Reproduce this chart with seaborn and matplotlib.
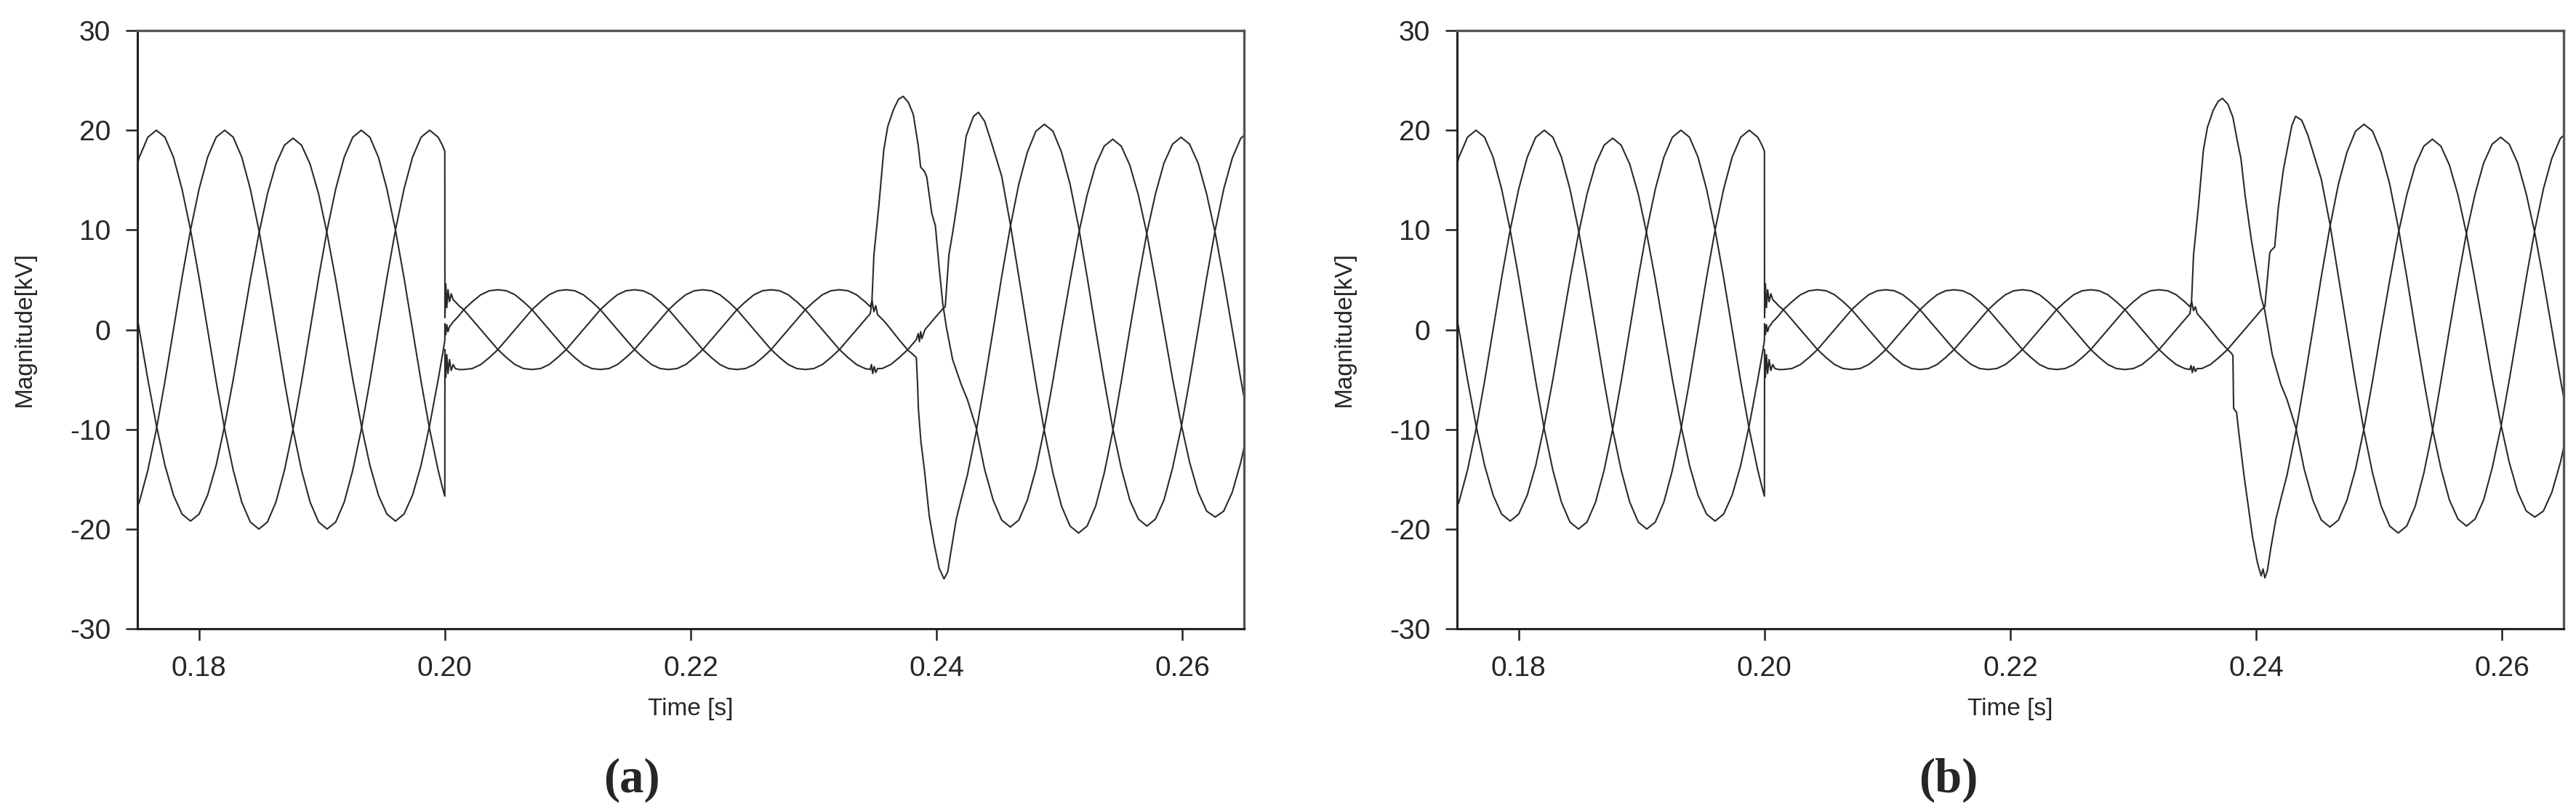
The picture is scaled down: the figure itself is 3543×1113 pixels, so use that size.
import numpy as np
import pandas as pd
import matplotlib
matplotlib.use("Agg")
import matplotlib.pyplot as plt
import seaborn as sns

# sampling interval of the steady parts (1/24 of a 60 Hz cycle)
STEP = 1 / 60 / 24
T_PRE = 0.17446    # first pre-fault sample
T_SAG = 0.20154    # first steady sag sample
T_POST = 0.24599   # first steady post-recovery sample

# ---- pre-fault, shared by both panels [kV]
pre_A = [14.1, 17.3, 19.3, 20.0, 19.3, 17.3, 14.1, 10.0, 5.2, 0.0, -5.2, -10.0, -14.1, -17.3, -19.3,
         -20.0, -19.3, -17.3, -14.1, -10.0, -5.2, 0.0, 5.2, 10.0, 14.1, 17.3, 19.3, 20.0, 19.3, 17.3,
         14.1, 10.0, 5.2, 0.0, -5.2, -10.0, -14.1]
pre_B = [-19.3, -17.3, -14.1, -10.0, -5.2, 0.0, 5.2, 10.0, 14.1, 17.3, 19.3, 20.0, 19.3, 17.3, 14.1,
         10.0, 5.2, 0.0, -5.2, -10.0, -14.1, -17.3, -19.3, -20.0, -19.3, -17.3, -14.1, -10.0, -5.2, 0.0,
         5.2, 10.0, 14.1, 17.3, 19.3, 20.0, 19.3]
pre_C = [5.0, 0.0, -5.0, -9.6, -13.6, -16.6, -18.5, -19.2, -18.5, -16.6, -13.6, -9.6, -5.0, 0.0, 5.0,
         9.6, 13.6, 16.6, 18.5, 19.2, 18.5, 16.6, 13.6, 9.6, 5.0, 0.0, -5.0, -9.6, -13.6, -16.6,
         -18.5, -19.2, -18.5, -16.6, -13.6, -9.6, -5.0]

# ---- fault inception at t = 0.200 s
fault_t = [0.19980, 0.20000, 0.20001, 0.20008, 0.20016, 0.20026, 0.20038, 0.20052, 0.20068, 0.20085, 0.20115]
fault_A = [-15.8, -16.7, -2.0, -4.8, -2.5, -4.4, -3.0, -4.1, -3.5, -3.9, -4.0]
fault_B = [18.5, 17.9, 1.2, 4.6, 2.2, 4.0, 2.8, 3.6, 3.0, 2.8, 2.4]
fault_C = [-2.6, -1.1, 0.6, -0.5, 0.5, -0.2, 0.3, 0.5, 0.8, 1.0, 1.4]

# ---- voltage sag
sag_A = [-4.0, -3.9, -3.5, -2.8, -2.0, -1.0, 0.0, 1.0, 2.0, 2.8, 3.5, 3.9,
         4.0, 3.9, 3.5, 2.8, 2.0, 1.0, 0.0, -1.0, -2.0, -2.8, -3.5, -3.9,
         -4.0, -3.9, -3.5, -2.8, -2.0, -1.0, 0.0, 1.0, 2.0, 2.8, 3.5, 3.9,
         4.0, 3.9, 3.5, 2.8, 2.0, 1.0, 0.0, -1.0, -2.0, -2.8, -3.5, -3.9]
sag_B = [2.0, 1.0, 0.0, -1.0, -2.0, -2.8, -3.5, -3.9, -4.0, -3.9, -3.5, -2.8,
         -2.0, -1.0, 0.0, 1.0, 2.0, 2.8, 3.5, 3.9, 4.0, 3.9, 3.5, 2.8,
         2.0, 1.0, 0.0, -1.0, -2.0, -2.8, -3.5, -3.9, -4.0, -3.9, -3.5, -2.8,
         -2.0, -1.0, 0.0, 1.0, 2.0, 2.8, 3.5, 3.9, 4.0, 3.9, 3.5, 2.8]
sag_C = [2.0, 2.8, 3.5, 3.9, 4.0, 3.9, 3.5, 2.8, 2.0, 1.0, 0.0, -1.0,
         -2.0, -2.8, -3.5, -3.9, -4.0, -3.9, -3.5, -2.8, -2.0, -1.0, 0.0, 1.0,
         2.0, 2.8, 3.5, 3.9, 4.0, 3.9, 3.5, 2.8, 2.0, 1.0, 0.0, -1.0,
         -2.0, -2.8, -3.5, -3.9, -4.0, -3.9, -3.5, -2.8, -2.0, -1.0, 0.0, 1.0]

# ---- recovery transient, panel (a)
rec_a_A_t = [0.23460, 0.23470, 0.23480, 0.23492, 0.23505, 0.23520, 0.23557, 0.23627, 0.23696, 0.23766,
             0.23835, 0.23850, 0.23860, 0.23870, 0.23880, 0.23905, 0.23974, 0.24043, 0.24070, 0.24100,
             0.24130, 0.24160, 0.24200, 0.24240, 0.24270, 0.24300, 0.24340, 0.24390, 0.24440, 0.24529]
rec_a_A = [-4.0, -3.5, -4.4, -3.7, -4.3, -3.9, -3.9, -3.5, -2.8, -2.0,
           -1.0, -0.4, -1.2, -0.2, -0.9, 0.0, 1.0, 2.0, 2.3, 7.5,
           9.7, 12.1, 15.5, 19.4, 20.4, 21.4, 21.8, 20.9, 19.0, 15.4]
rec_a_B_t = [0.23460, 0.23475, 0.23490, 0.23505, 0.23520, 0.23570, 0.23630, 0.23700, 0.23770, 0.23800,
             0.23835, 0.23845, 0.23852, 0.23872, 0.23900, 0.23940, 0.23980, 0.24020, 0.24060, 0.24090,
             0.24120, 0.24160, 0.24200, 0.24250, 0.24321, 0.24390, 0.24460, 0.24529]
rec_a_B = [2.3, 2.9, 1.8, 2.4, 1.5, 0.9, 0.0, -1.1, -2.1, -2.4,
           -2.8, -5.5, -8.0, -11.2, -14.0, -18.7, -21.5, -23.9, -25.0, -24.3,
           -22.0, -19.0, -17.0, -14.6, -10.3, -5.3, 0.0, 5.3]
rec_a_C_t = [0.23460, 0.23473, 0.23490, 0.23530, 0.23570, 0.23603, 0.23650, 0.23690, 0.23728, 0.23770,
             0.23810, 0.23850, 0.23870, 0.23900, 0.23920, 0.23960, 0.23990, 0.24020, 0.24050, 0.24080,
             0.24130, 0.24200, 0.24250, 0.24321, 0.24390, 0.24460, 0.24529]
rec_a_C = [1.6, 2.6, 7.5, 12.4, 18.0, 20.4, 22.1, 23.1, 23.4, 22.8,
           21.6, 18.5, 16.3, 15.9, 15.3, 11.7, 10.4, 6.3, 2.6, 0.2,
           -3.0, -5.5, -7.0, -9.8, -14.0, -17.1, -19.1]

# ---- recovery transient, panel (b)
rec_b_A_t = [0.23460, 0.23470, 0.23480, 0.23492, 0.23505, 0.23520, 0.23557, 0.23627, 0.23696, 0.23766,
             0.23835, 0.23905, 0.23974, 0.24043, 0.24070, 0.24110, 0.24118, 0.24150, 0.24180, 0.24220,
             0.24260, 0.24290, 0.24320, 0.24370, 0.24420, 0.24529]
rec_b_A = [-4.0, -3.6, -4.3, -3.7, -4.2, -3.9, -3.9, -3.5, -2.8, -2.0,
           -1.0, 0.0, 1.0, 2.0, 2.3, 7.7, 7.9, 8.3, 12.3, 16.0,
           18.6, 20.5, 21.4, 21.0, 19.5, 15.1]
rec_b_B_t = [0.23460, 0.23475, 0.23490, 0.23505, 0.23520, 0.23570, 0.23630, 0.23700, 0.23760, 0.23800,
             0.23810, 0.23816, 0.23840, 0.23855, 0.23900, 0.23970, 0.24010, 0.24040, 0.24055, 0.24070,
             0.24090, 0.24120, 0.24160, 0.24200, 0.24250, 0.24321, 0.24390, 0.24460, 0.24529]
rec_b_B = [2.3, 2.8, 1.9, 2.3, 1.6, 0.9, 0.0, -1.1, -1.9, -2.4,
           -2.6, -7.9, -8.3, -10.0, -14.6, -20.8, -23.4, -24.7, -24.0, -24.9,
           -24.2, -21.8, -19.0, -17.0, -14.6, -10.3, -5.3, 0.0, 5.3]
rec_b_C_t = [0.23460, 0.23473, 0.23490, 0.23530, 0.23570, 0.23603, 0.23650, 0.23690, 0.23725, 0.23770,
             0.23810, 0.23845, 0.23861, 0.23875, 0.23910, 0.23960, 0.24000, 0.24040, 0.24068, 0.24130,
             0.24200, 0.24250, 0.24321, 0.24390, 0.24460, 0.24529]
rec_b_C = [1.6, 2.6, 7.5, 12.4, 18.0, 20.3, 22.0, 22.9, 23.2, 22.6,
           21.3, 19.0, 18.0, 17.2, 13.4, 9.0, 6.1, 3.2, 2.0, -2.5,
           -5.5, -7.0, -9.8, -14.0, -17.1, -19.1]

# ---- after recovery, shared by both panels
post_A = [10.6, 5.3, 0.0, -5.3, -10.2, -14.4, -17.7, -19.7, -20.4, -19.7, -17.7, -14.4, -10.2, -5.2, 0.0,
          5.0, 9.7, 13.6, 16.7, 18.6, 19.3, 18.6, 16.7, 13.6, 9.7, 5.0, 0.0, -5.0, -9.7]
post_B = [10.3, 14.6, 17.8, 19.9, 20.6, 19.9, 17.8, 14.6, 10.3, 5.3, 0.0, -5.1, -9.9, -13.9, -17.1,
          -19.0, -19.7, -19.0, -17.1, -13.9, -9.9, -5.1, 0.0, 5.2, 10.0, 14.1, 17.2, 19.2, 19.9]
post_C = [-19.8, -19.1, -17.1, -14.0, -9.9, -5.1, 0.0, 4.9, 9.6, 13.5, 16.5, 18.4, 19.1, 18.4, 16.5,
          13.5, 9.6, 4.9, 0.0, -4.9, -9.4, -13.3, -16.3, -18.2, -18.8, -18.2, -16.3, -13.3, -9.4]

panels = {
    "(a)": {"A": (rec_a_A_t, rec_a_A), "B": (rec_a_B_t, rec_a_B), "C": (rec_a_C_t, rec_a_C)},
    "(b)": {"A": (rec_b_A_t, rec_b_A), "B": (rec_b_B_t, rec_b_B), "C": (rec_b_C_t, rec_b_C)},
}
steady = {
    "A": (pre_A, fault_A, sag_A, post_A),
    "B": (pre_B, fault_B, sag_B, post_B),
    "C": (pre_C, fault_C, sag_C, post_C),
}


def sampled(t0, vals):
    return list(t0 + STEP * np.arange(len(vals)))


def build_frame(rec):
    rows = []
    for ph, (pre, flt, sag, post) in steady.items():
        rt, rv = rec[ph]
        t = sampled(T_PRE, pre) + fault_t + sampled(T_SAG, sag) + rt + sampled(T_POST, post)
        v = pre + flt + sag + rv + post
        rows.append(pd.DataFrame({"time": t, "kV": v, "phase": ph}))
    return pd.concat(rows, ignore_index=True)


sns.set_theme(style="ticks")
plt.rcParams["font.family"] = ["Liberation Sans", "DejaVu Sans"]
plt.rcParams["axes.unicode_minus"] = False

W, H = 3543, 1113
fig = plt.figure(figsize=(W / 100, H / 100), dpi=100)
line_col = "#2a2a2a"
ax_lefts = [189 / W, 2004 / W]
ax_w = 1522 / W
ax_b = 1 - 865 / H
ax_h = 823 / H
label_x = [869 / W, 2680 / W]

for i, (name, rec) in enumerate(panels.items()):
    ax = fig.add_axes([ax_lefts[i], ax_b, ax_w, ax_h])
    df = build_frame(rec)
    sns.lineplot(data=df, x="time", y="kV", hue="phase", units="phase",
                 palette={"A": line_col, "B": line_col, "C": line_col},
                 estimator=None, sort=False, linewidth=1.5, legend=False, ax=ax)
    ax.set_xlim(0.175, 0.265)
    ax.set_ylim(-30, 30)
    ax.set_xticks([0.18, 0.20, 0.22, 0.24, 0.26])
    ax.set_xticklabels(["0.18", "0.20", "0.22", "0.24", "0.26"])
    ax.set_yticks([-30, -20, -10, 0, 10, 20, 30])
    ax.tick_params(direction="out", length=11.5, width=1.8, labelsize=28, pad=15, color="#222222")
    for side in ["left", "bottom"]:
        ax.spines[side].set_color("#222222")
        ax.spines[side].set_linewidth(2.2)
    for side in ["top", "right"]:
        ax.spines[side].set_visible(True)
        ax.spines[side].set_color("#555555")
        ax.spines[side].set_linewidth(2.4)
    ax.set_xlabel("Time [s]", fontsize=24)
    ax.set_ylabel("Magnitude[kV]", fontsize=24)
    ax.xaxis.set_label_coords(0.5, -0.115)
    ax.yaxis.set_label_coords(-0.092, 0.5)
    fig.text(label_x[i], 1 - 1073 / H, name, ha="center", va="center",
             fontsize=48, fontweight="bold", family=["Liberation Serif", "DejaVu Serif"])

fig.savefig("out.png", dpi=100, facecolor="white")
